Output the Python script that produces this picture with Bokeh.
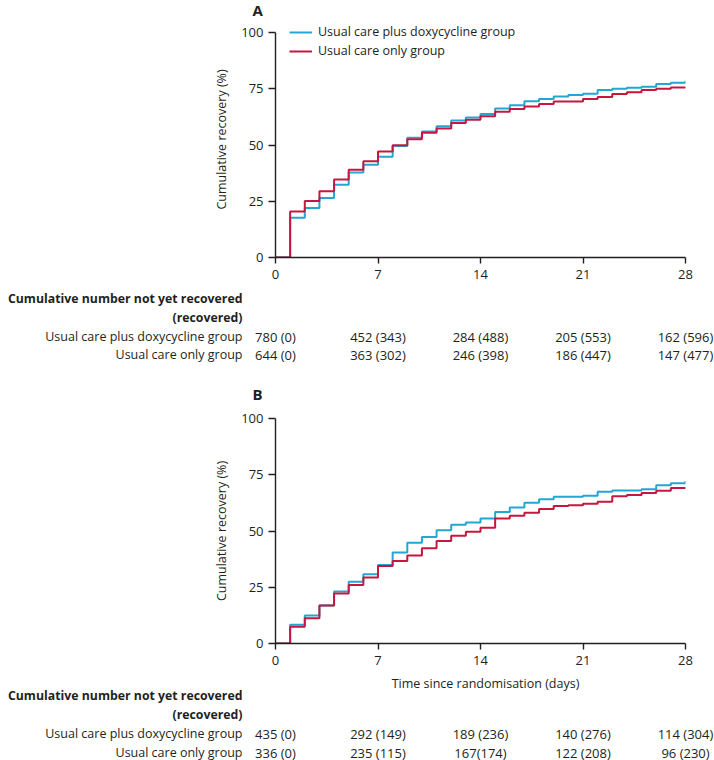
from bokeh.plotting import figure
from bokeh.models import Range1d, FixedTicker, Legend, LegendItem, ColumnDataSource
from bokeh.layouts import column
from bokeh.embed import file_html
from bokeh.resources import INLINE
from bokeh.core.properties import value

# ---------------- data ----------------
days = list(range(29))
x_ticks = [0, 7, 14, 21, 28]
y_ticks = [0, 25, 50, 75, 100]

series_names = ["Usual care plus doxycycline group", "Usual care only group"]

a_doxy = [0, 17.7, 22.0, 26.4, 32.3, 37.8, 41.2, 44.8, 49.6, 53.2, 56.0, 58.3, 60.9, 62.2, 63.8,
          66.2, 67.7, 69.4, 70.5, 71.6, 72.2, 72.8, 74.4, 75.0, 75.5, 75.9, 77.1, 77.7, 78.6]
a_usual = [0, 20.4, 25.1, 29.5, 34.7, 39.0, 42.8, 47.1, 49.9, 52.6, 55.4, 57.3, 59.8, 61.2, 62.8,
           64.8, 66.0, 67.1, 68.2, 69.3, 69.3, 70.5, 71.3, 72.7, 73.4, 74.4, 75.0, 75.6, 75.8]
b_doxy = [0, 8.3, 12.4, 16.9, 23.1, 27.5, 30.8, 34.9, 40.5, 44.8, 47.3, 50.3, 52.8, 53.8, 55.6,
          58.4, 60.5, 62.6, 64.1, 65.2, 65.2, 65.7, 67.5, 68.0, 68.0, 68.6, 70.3, 71.2, 72.2]
b_usual = [0, 7.4, 11.2, 16.9, 22.2, 26.0, 29.3, 34.5, 36.7, 39.1, 42.3, 45.6, 47.9, 49.7, 51.5,
           55.6, 56.8, 58.1, 59.8, 61.1, 61.5, 62.1, 63.0, 65.5, 66.0, 66.9, 67.9, 69.1, 69.3]

a_doxy_counts = ["780 (0)", "452 (343)", "284 (488)", "205 (553)", "162 (596)"]
a_usual_counts = ["644 (0)", "363 (302)", "246 (398)", "186 (447)", "147 (477)"]
b_doxy_counts = ["435 (0)", "292 (149)", "189 (236)", "140 (276)", "114 (304)"]
b_usual_counts = ["336 (0)", "235 (115)", "167(174)", "122 (208)", "96 (230)"]

panel_letters = ["A", "B"]
table_header = ["Cumulative number not yet recovered", "(recovered)"]
y_label = "Cumulative recovery (%)"
x_label = "Time since randomisation (days)"

# ---------------- style / layout ----------------
FONT = "Open Sans"
TXT = "#231f20"
BLUE = "#22a7d3"
RED = "#c5173f"

W = 714
LEFT = 275
RIGHT = 29
FRAME_W = W - LEFT - RIGHT          # 410 px for 28 days
PPD = FRAME_W / 28.0
Y_PX = 2.25                          # px per percentage point
TX0 = -LEFT / PPD
TX1 = 28 + RIGHT / PPD
LABEL_X = (242 - LEFT) / PPD         # right edge of the table's row labels
LETTER_X = (252 - LEFT) / PPD        # left edge of the panel letters
XLABEL_X = (485 - LEFT) / PPD        # centre of the x-axis title


def strip(height):
    """Full-width text strip; y is measured in px from its top."""
    t = figure(width=W, height=height,
               x_range=Range1d(TX0, TX1), y_range=Range1d(height, 0),
               output_backend="svg", toolbar_location=None,
               x_axis_type=None, y_axis_type=None,
               min_border=0, min_border_left=0, min_border_right=0,
               min_border_top=0, min_border_bottom=0,
               outline_line_color=None, background_fill_color="white",
               border_fill_color="white", frame_align=False)
    t.grid.visible = False
    return t


def letter(t, text, y):
    t.text(x=[LETTER_X], y=[y], text=[text], text_align="left", text_baseline="middle",
           text_font=value(FONT), text_font_size=value("15px"),
           text_font_style="bold", text_color=TXT)


def km_plot(doxy, usual, top, extra_top, bottom, with_legend):
    y_end = 100 + extra_top / Y_PX
    p = figure(frame_width=FRAME_W, frame_height=int(round(y_end * Y_PX)),
               x_range=Range1d(0, 28), y_range=Range1d(0, y_end),
               output_backend="svg", toolbar_location=None,
               min_border_left=LEFT, min_border_right=RIGHT,
               min_border_top=top, min_border_bottom=bottom,
               outline_line_color=None, background_fill_color="white",
               border_fill_color="white", frame_align=False)
    p.grid.visible = False
    p.xaxis.ticker = FixedTicker(ticks=x_ticks)
    p.yaxis.ticker = FixedTicker(ticks=y_ticks)
    p.yaxis.bounds = (0, 100)
    for ax in (p.xaxis[0], p.yaxis[0]):
        ax.axis_line_color = TXT
        ax.axis_line_width = 1.4
        ax.major_tick_line_color = TXT
        ax.major_tick_line_width = 1.4
        ax.major_tick_in = 0
        ax.minor_tick_line_color = None
        ax.major_label_text_font = FONT
        ax.major_label_text_font_size = "13px"
        ax.major_label_text_color = TXT
        ax.axis_label_text_font = FONT
        ax.axis_label_text_font_size = "12.5px"
        ax.axis_label_text_font_style = "normal"
        ax.axis_label_text_color = TXT
    p.yaxis.major_tick_out = 7
    p.xaxis.major_tick_out = 6
    p.yaxis.major_label_standoff = 5
    p.xaxis.major_label_standoff = 6
    p.yaxis.axis_label = y_label
    p.yaxis.axis_label_standoff = 8

    src = ColumnDataSource(dict(day=days, doxy=doxy, usual=usual))
    r1 = p.step(x="day", y="doxy", source=src, mode="after", line_color=BLUE, line_width=2)
    r2 = p.step(x="day", y="usual", source=src, mode="after", line_color=RED, line_width=2)

    if with_legend:
        leg = Legend(items=[LegendItem(label=series_names[0], renderers=[r1]),
                            LegendItem(label=series_names[1], renderers=[r2])],
                     location=(14, 198), padding=0, margin=0,
                     border_line_color=None, background_fill_alpha=0,
                     glyph_width=23, glyph_height=16, label_height=16,
                     label_standoff=6, spacing=2,
                     label_text_font=FONT, label_text_font_size="12.5px",
                     label_text_color=TXT)
        p.add_layout(leg)
    return p


def table_rows(t, doxy_counts, usual_counts, rows_y):
    t.text(x=[LABEL_X, LABEL_X], y=rows_y[:2], text=table_header,
           text_align="right", text_baseline="middle",
           text_font=value(FONT), text_font_size=value("12.3px"),
           text_font_style="bold", text_color=TXT)
    t.text(x=[LABEL_X, LABEL_X], y=rows_y[2:], text=series_names,
           text_align="right", text_baseline="middle",
           text_font=value(FONT), text_font_size=value("12.5px"),
           text_color=TXT)
    t.text(x=x_ticks + x_ticks, y=[rows_y[2]] * len(x_ticks) + [rows_y[3]] * len(x_ticks),
           text=doxy_counts + usual_counts,
           text_align="center", text_baseline="middle",
           text_font=value(FONT), text_font_size=value("13px"),
           text_color=TXT)


# panel A letter strip (page y 0..21)
la = strip(21)
letter(la, panel_letters[0], 9)

# panel A plot (page y 21..289)
pa = km_plot(a_doxy, a_usual, top=0, extra_top=11, bottom=32, with_legend=True)

# panel A table + panel B letter (page y 289..408)
ta = strip(119)
table_rows(ta, a_doxy_counts, a_usual_counts, [9, 28, 47, 65])
letter(ta, panel_letters[1], 104)

# panel B plot (page y 408..675)
pb = km_plot(b_doxy, b_usual, top=10, extra_top=0, bottom=32, with_legend=False)

# panel B axis title + table (page y 675..760)
tb = strip(85)
tb.text(x=[XLABEL_X], y=[8], text=[x_label], text_align="center", text_baseline="middle",
        text_font=value(FONT), text_font_size=value("12.5px"), text_color=TXT)
table_rows(tb, b_doxy_counts, b_usual_counts, [20, 39, 58, 77])

layout = column(la, pa, ta, pb, tb, spacing=0)

open("out.html", "w").write(file_html(layout, INLINE))
